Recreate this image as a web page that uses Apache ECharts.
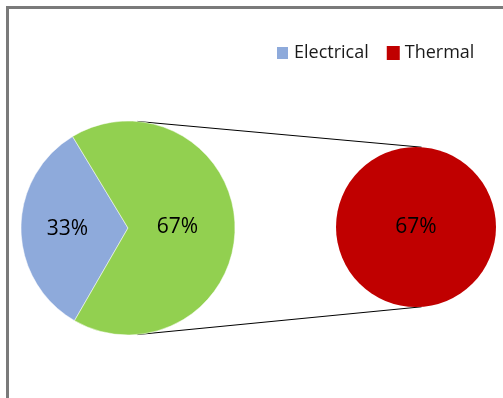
<!DOCTYPE html>
<html>
<head>
<meta charset="utf-8">
<style>
  html, body { margin: 0; padding: 0; background: #fff; }
  #chart { width: 503px; height: 398px; }
</style>
<script src="https://cdn.jsdelivr.net/npm/echarts@6/dist/echarts.min.js"></script>
</head>
<body>
<div id="chart"></div>
<script>
// data
var legendNames = ['Electrical', 'Thermal'];
var mainNames = ['Electrical', 'Other'];
var mainValues = [33, 67];
var mainColors = ['#8eaadb', '#92d050'];
var subNames = ['Thermal'];
var subValues = [67];
var subColors = ['#c00000'];

// layout of the two pies
var leftC = [128, 228], leftR = 107;
var rightC = [416, 227], rightR = 80;
// nudge of the inside labels so they sit like the original
var mainLabelShift = [[-4, 0], [-7, 0]];

var fontFam = '"Open Sans", "Liberation Sans", sans-serif';

// connector lines from the top/bottom of the big pie to the small pie
function connector(sign) {
    var a1 = 85 * Math.PI / 180;
    var a2 = 86 * Math.PI / 180;
    return {
        type: 'line',
        silent: true,
        shape: {
            x1: leftC[0] + leftR * Math.cos(a1),
            y1: leftC[1] - sign * leftR * Math.sin(a1),
            x2: rightC[0] + rightR * Math.cos(a2),
            y2: rightC[1] - sign * rightR * Math.sin(a2)
        },
        style: { stroke: '#000', lineWidth: 1 }
    };
}

var myChart = echarts.init(document.getElementById('chart'));
var option = {
    animation: false,
    textStyle: { fontFamily: fontFam },
    legend: {
        data: legendNames,
        left: 270,
        top: 39,
        icon: 'rect',
        itemWidth: 13,
        itemHeight: 14,
        itemGap: 18,
        selectedMode: false,
        textStyle: { fontSize: 18, color: '#1a1a1a', fontFamily: fontFam, padding: [0, 0, 0, 0] }
    },
    graphic: [
        {
            type: 'rect',
            silent: true,
            shape: { x: 7.5, y: 7.5, width: 600, height: 500 },
            style: { fill: 'none', stroke: '#7a7a7a', lineWidth: 3 }
        },
        connector(1),
        connector(-1)
    ],
    series: [
        {
            type: 'pie',
            center: leftC,
            radius: leftR,
            startAngle: 240,
            silent: true,
            label: {
                position: 'inside',
                formatter: '{d}%',
                fontSize: 21,
                color: '#000',
                fontFamily: fontFam
            },
            labelLine: { show: false },
            itemStyle: { borderColor: '#fff', borderWidth: 0.5 },
            data: mainNames.map(function(n, i) {
                return {
                    name: n,
                    value: mainValues[i],
                    itemStyle: { color: mainColors[i] },
                    label: { offset: mainLabelShift[i] }
                };
            })
        },
        {
            type: 'pie',
            center: rightC,
            radius: rightR,
            silent: true,
            label: {
                position: 'center',
                formatter: function(p) { return p.value + '%'; },
                fontSize: 21,
                color: '#000',
                fontFamily: fontFam
            },
            labelLine: { show: false },
            data: subNames.map(function(n, i) {
                return { name: n, value: subValues[i], itemStyle: { color: subColors[i] } };
            })
        }
    ]
};
myChart.setOption(option);
</script>
</body>
</html>
